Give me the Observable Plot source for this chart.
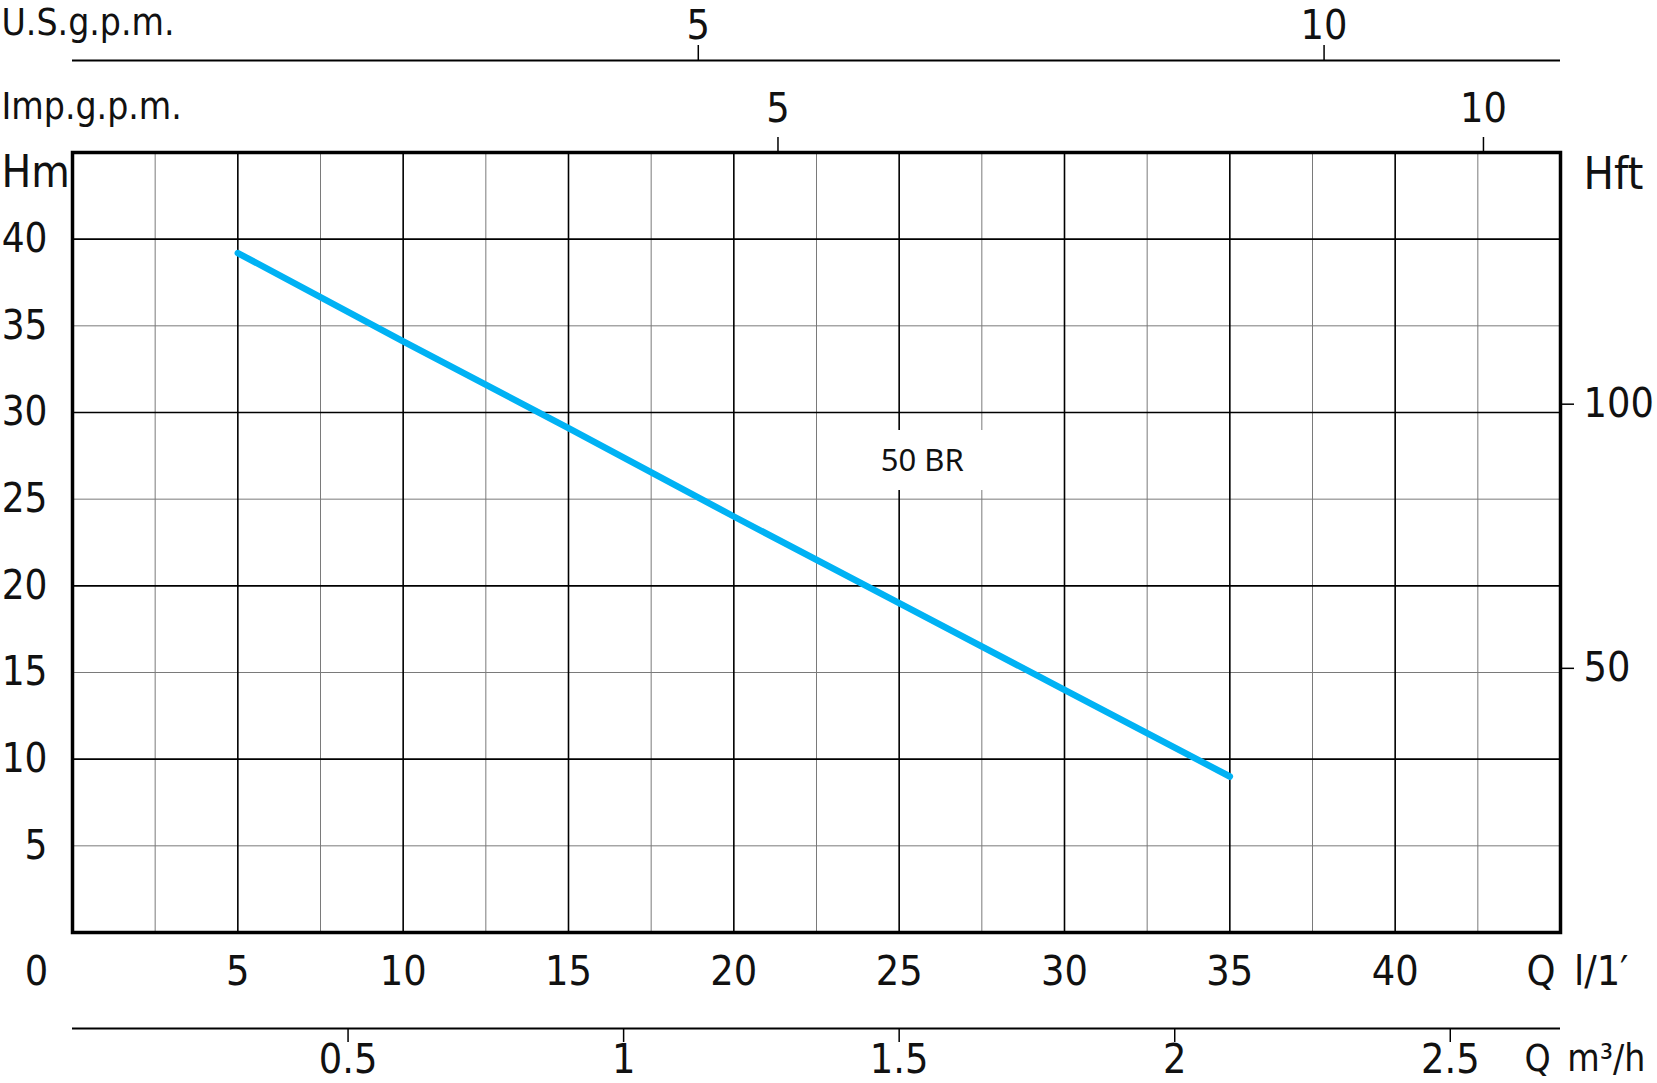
<!DOCTYPE html>
<html>
<head>
<meta charset="utf-8">
<script src="https://cdn.jsdelivr.net/npm/d3@7"></script>
<script src="https://cdn.jsdelivr.net/npm/@observablehq/plot@0.6"></script>
<style>
  html, body { margin: 0; padding: 0; background: #fff; }
  #chart svg { display: block; }
</style>
</head>
<body>
<div id="chart"></div>
<script>
// ---- data ----
const flowLpm = [5, 10, 15, 20, 25, 30, 35];            // Q l/min
const headM   = [39.2, 34.1, 29.1, 24.0, 19.0, 14.0, 9.0]; // H m
const seriesLabel = ["50 BR"];
const seriesLabelAt = [25.7, 27.2];                       // [Q l/min, H m]

const xDomain = [0, 45];
const yDomain = [0, 45];
const xMajor = [5, 10, 15, 20, 25, 30, 35, 40];
const xMinor = [2.5, 7.5, 12.5, 17.5, 22.5, 27.5, 32.5, 37.5, 42.5];
const yMajor = [10, 20, 30, 40];
const yMinor = [5, 15, 25, 35];
const xTickLabels = [5, 10, 15, 20, 25, 30, 35, 40];
const yTickLabels = [5, 10, 15, 20, 25, 30, 35, 40];
const usGpmTicks = [5, 10];
const impGpmTicks = [5, 10];
const m3hTicks = [0.5, 1, 1.5, 2, 2.5];
const hftTicks = [50, 100];

// unit conversions to l/min and m
const litresPerUsGal = 3.785;
const litresPerImpGalAsDrawn = 4.267;
const lpmPerM3h = 1000 / 60;
const mPerFt = 0.3048;

const curve = flowLpm.map((q, i) => ({q, h: headM[i]}));
const label = seriesLabel.map(t => ({q: seriesLabelAt[0], h: seriesLabelAt[1], t}));

const FONT = '"DejaVu Sans Condensed", "Liberation Sans Narrow", sans-serif';
const T = {fontFamily: FONT, fontSize: 41, fill: "#111", lineAnchor: "middle"};
const boxSymbol = {draw(ctx) { ctx.rect(-63, -31, 126, 60); }};

const chart = Plot.plot({
  width: 1657,
  height: 1083,
  marginLeft: 72,
  marginRight: 97,
  marginTop: 152,
  marginBottom: 151,
  style: {background: "#fff", overflow: "visible"},
  x: {domain: xDomain, axis: null},
  y: {domain: yDomain, axis: null},
  marks: [
    // grid
    Plot.ruleX(xMinor, {x: d => d, stroke: "#7a7a7a", strokeWidth: 1}),
    Plot.ruleY(yMinor, {y: d => d, stroke: "#7a7a7a", strokeWidth: 1}),
    Plot.ruleX(xMajor, {x: d => d, stroke: "#000", strokeWidth: 1.6}),
    Plot.ruleY(yMajor, {y: d => d, stroke: "#000", strokeWidth: 1.6}),
    // label background
    Plot.dot(label, {x: "q", y: "h", symbol: boxSymbol, fill: "#fff", stroke: null}),
    Plot.frame({stroke: "#000", strokeWidth: 3.5}),
    // curve
    Plot.line(curve, {x: "q", y: "h", stroke: "#00b2f4", strokeWidth: 6.5, strokeLinecap: "round"}),
    Plot.text(label, {x: "q", y: "h", text: "t", fontFamily: '"Noto Sans", "DejaVu Sans", sans-serif', fontSize: 31, fill: "#111", lineAnchor: "middle"}),

    // left axis labels (Hm)
    Plot.text(yTickLabels, {y: d => d, text: d => String(d), frameAnchor: "left", textAnchor: "end", dx: -25, ...T, fontSize: 40}),
    Plot.text(["Hm"], {text: d => d, frameAnchor: "top-left", textAnchor: "start", dx: -71, dy: 20, ...T, fontSize: 44}),

    // bottom l/min labels
    Plot.text(xTickLabels, {x: d => d, text: d => String(d), frameAnchor: "bottom", textAnchor: "middle", dy: 39, ...T}),
    Plot.text(["0"], {text: d => d, frameAnchor: "bottom-left", textAnchor: "middle", dx: -36, dy: 39, ...T}),
    Plot.text(["Q\u2002l/1\u2032"], {text: d => d, frameAnchor: "bottom-right", textAnchor: "start", dx: -34, dy: 39, ...T}),

    // bottom m3/h axis
    Plot.ruleY([yDomain[0]], {dy: 96, stroke: "#000", strokeWidth: 1.8}),
    Plot.ruleX(m3hTicks, {x: d => d * lpmPerM3h, insetTop: 766, dy: 110, stroke: "#000", strokeWidth: 1.5}),
    Plot.text(m3hTicks, {x: d => d * lpmPerM3h, text: d => String(d), frameAnchor: "bottom", textAnchor: "middle", dy: 127, ...T}),
    Plot.text(["Q\u2002m\u00b3/h"], {text: d => d, frameAnchor: "bottom-right", textAnchor: "start", dx: -36, dy: 127, ...T, fontSize: 37}),

    // top U.S. g.p.m. axis
    Plot.ruleY([yDomain[1]], {dy: -92, stroke: "#000", strokeWidth: 1.8}),
    Plot.ruleX(usGpmTicks, {x: d => d * litresPerUsGal, insetBottom: 765, dy: -107, stroke: "#000", strokeWidth: 1.5}),
    Plot.text(usGpmTicks, {x: d => d * litresPerUsGal, text: d => String(d), frameAnchor: "top", textAnchor: "middle", dy: -127, ...T}),
    Plot.text(["U.S.g.p.m."], {text: d => d, frameAnchor: "top-left", textAnchor: "start", dx: -71, dy: -129, ...T, fontSize: 37}),

    // Imp. g.p.m. axis (on the frame's top edge)
    Plot.ruleX(impGpmTicks, {x: d => d * litresPerImpGalAsDrawn, insetBottom: 765, dy: -15, stroke: "#000", strokeWidth: 1.5}),
    Plot.text(impGpmTicks, {x: d => d * litresPerImpGalAsDrawn, text: d => String(d), frameAnchor: "top", textAnchor: "middle", dy: -44, ...T}),
    Plot.text(["Imp.g.p.m."], {text: d => d, frameAnchor: "top-left", textAnchor: "start", dx: -71, dy: -45, ...T, fontSize: 37}),

    // right Hft axis
    Plot.ruleY(hftTicks, {y: d => d * mPerFt, insetLeft: 1473, dx: 14, stroke: "#000", strokeWidth: 1.5}),
    Plot.text(hftTicks, {y: d => d * mPerFt, text: d => String(d), frameAnchor: "right", textAnchor: "start", dx: 23, ...T}),
    Plot.text(["Hft"], {text: d => d, frameAnchor: "top-right", textAnchor: "start", dx: 23, dy: 22, ...T, fontSize: 45})
  ]
});
document.getElementById("chart").append(chart);
</script>
</body>
</html>
